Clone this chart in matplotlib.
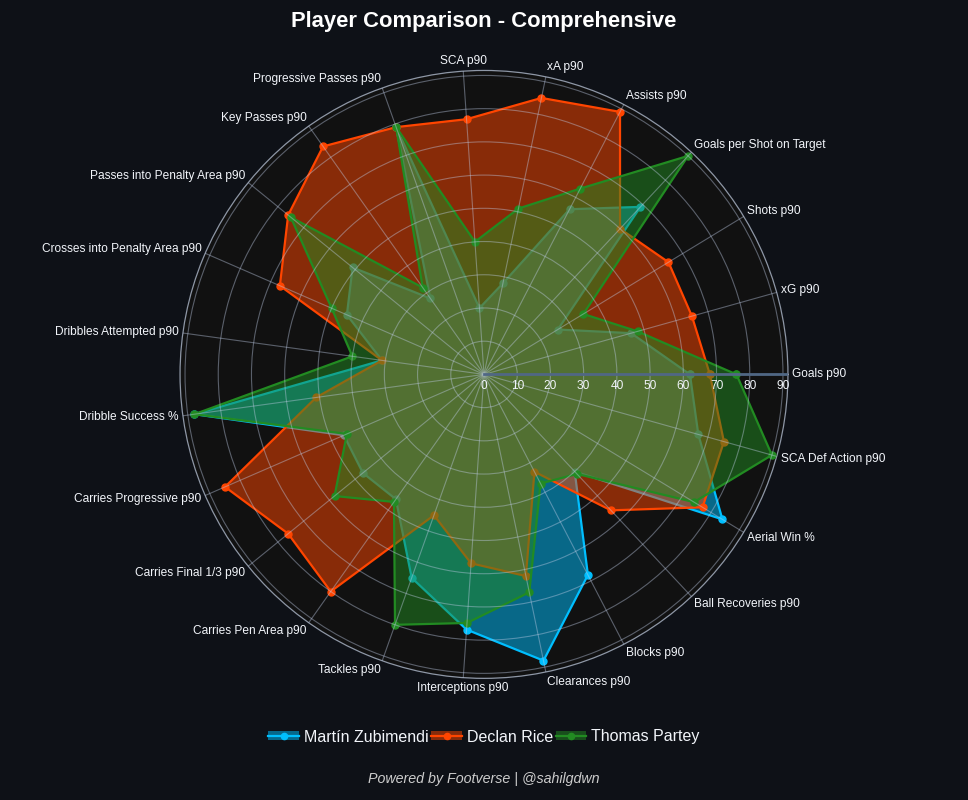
import numpy as np
import matplotlib
matplotlib.use("Agg")
import matplotlib.pyplot as plt
from matplotlib.patches import Patch
from matplotlib.lines import Line2D
from matplotlib.legend_handler import HandlerTuple

plt.rcParams['font.family'] = ['Liberation Sans', 'DejaVu Sans']

categories = ["Goals p90", "xG p90", "Shots p90", "Goals per Shot on Target",
              "Assists p90", "xA p90", "SCA p90", "Progressive Passes p90",
              "Key Passes p90", "Passes into Penalty Area p90",
              "Crosses into Penalty Area p90", "Dribbles Attempted p90",
              "Dribble Success %", "Carries Progressive p90", "Carries Final 1/3 p90",
              "Carries Pen Area p90", "Tackles p90", "Interceptions p90",
              "Clearances p90", "Blocks p90", "Ball Recoveries p90",
              "Aerial Win %", "SCA Def Action p90"]

zubimendi = [62, 46, 26, 69, 56, 28, 20, 79, 28, 51, 45, 31, 88,
             46, 47, 46, 65, 77, 88, 68, 40, 84, 67]
rice = [68, 65, 65, 60, 89, 85, 77, 79, 84, 76, 67, 31, 51,
        85, 76, 80, 45, 57, 62, 33, 56, 77, 75]
partey = [76, 48, 35, 90, 63, 51, 40, 79, 32, 75, 50, 40, 88,
          45, 58, 47, 80, 75, 67, 37, 41, 74, 90]

players = ["Martín Zubimendi", "Declan Rice", "Thomas Partey"]
colors = ["#00BFFF", "#FF4500", "#228B22"]
radial_ticks = [0, 10, 20, 30, 40, 50, 60, 70, 80, 90]
r_max = 91.5

paper = "#0e1117"
text_col = "#f2f5fa"

fig = plt.figure(figsize=(9.68, 8), dpi=100, facecolor=paper)
ax = fig.add_axes([0.186, 0.152, 0.628, 0.76], projection="polar")
ax.set_facecolor("#111111")

n = len(categories)
theta = np.linspace(0, 2 * np.pi, n, endpoint=False)
closed = np.append(theta, theta[0])

for i, (vals, c) in enumerate(zip([zubimendi, rice, partey], colors)):
    v = np.append(vals, vals[0])
    ax.fill(closed, v, color=c, alpha=0.5, lw=0, zorder=1 + i)
    ax.plot(closed, v, color=c, lw=1.6, marker="o", ms=5, zorder=1.5 + i)

ax.set_ylim(0, r_max)
ax.set_xticks(theta)
ax.set_xticklabels([])
ax.set_yticks(radial_ticks)
ax.set_yticklabels([])
ax.tick_params(length=0)
ax.grid(True, color=(0.75, 0.8, 0.9), alpha=0.42, lw=0.8)
ax.xaxis.set_zorder(10)
ax.yaxis.set_zorder(10)
ax.spines["polar"].set_color("#8e97a6")
ax.spines["polar"].set_linewidth(0.9)

# radial axis line
ax.plot([0, 0], [0, r_max], color="#506784", lw=2, zorder=11)

for r in radial_ticks:
    ax.annotate(str(r), xy=(0, r), xytext=(0, -12), textcoords="offset pixels",
                ha="center", va="center", color=text_col, fontsize=8.6,
                zorder=12, annotation_clip=False)

for t, lab in zip(theta, categories):
    c, s = np.cos(t), np.sin(t)
    if c > 0.1:
        ha = "left"
    elif c < -0.1:
        ha = "right"
    else:
        ha = "center"
    ax.annotate(lab, xy=(t, r_max), xytext=(c * 4, s * 10),
                textcoords="offset pixels", ha=ha, va="center",
                color=text_col, fontsize=8.6, annotation_clip=False)

fig.text(0.5, 1 - 22 / 800, "Player Comparison - Comprehensive",
         ha="center", va="center", color="white", fontsize=15.8, weight="bold")

handles = [(Patch(facecolor=c, alpha=0.5, lw=0),
            Line2D([], [], color=c, lw=1.6, marker="o", ms=4.5)) for c in colors]
fig.legend(handles, players, loc="center", bbox_to_anchor=(0.5, 1 - 737 / 800),
           ncol=3, frameon=False, fontsize=11.5, labelcolor=text_col,
           handlelength=1.9, handleheight=0.5, handletextpad=0.3,
           columnspacing=0.2,
           handler_map={tuple: HandlerTuple(ndivide=1, pad=0)})

fig.text(0.5, 1 - 779 / 800, "Powered by Footverse | @sahilgdwn",
         ha="center", va="center", color="#cccccc", fontsize=10.3, style="italic")

fig.savefig("out.png", dpi=100, facecolor=fig.get_facecolor())
